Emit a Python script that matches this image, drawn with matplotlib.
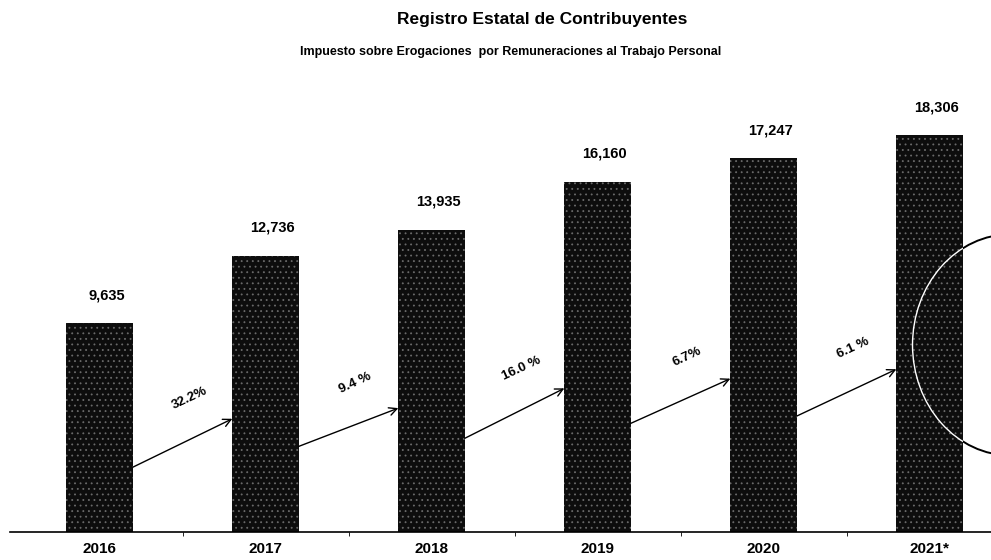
import matplotlib.pyplot as plt
import numpy as np
from matplotlib.patches import Ellipse

plt.rcParams["font.family"] = ["Liberation Sans", "DejaVu Sans"]
plt.rcParams["hatch.linewidth"] = 0.6

years = ["2016", "2017", "2018", "2019", "2020", "2021*"]
contribuyentes = [9635, 12736, 13935, 16160, 17247, 18306]
growth = ["32.2%", "9.4 %", "16.0 %", "6.7%", "6.1 %"]

fig = plt.figure(figsize=(9.91, 5.6), dpi=100)
ax = fig.add_axes([0.010, 0.05, 0.99, 0.79])

x = np.arange(len(years))
bars = ax.bar(x, contribuyentes, width=0.4, color="#0d0d0d",
              edgecolor="#6a6a6a", hatch="...", linewidth=0, zorder=2)

for xi, v in zip(x, contribuyentes):
    ax.annotate(f"{v:,}", (xi, v), xytext=(5, 15), textcoords="offset points",
                ha="center", va="bottom", fontsize=10.5, fontweight="bold")

# growth arrows between consecutive bars
for i, g in enumerate(growth):
    x0, x1 = x[i] + 0.2, x[i + 1] - 0.2
    y0, y1 = contribuyentes[i] * 0.31, contribuyentes[i + 1] * 0.41
    ax.annotate("", xy=(x1, y1), xytext=(x0, y0),
                arrowprops=dict(arrowstyle="->", color="black", lw=1.0,
                                mutation_scale=14, shrinkA=0, shrinkB=0),
                zorder=3)
    ax.annotate(g, ((x0 + x1) / 2, (y0 + y1) / 2), xytext=(5, 32),
                textcoords="offset points", ha="center", va="center",
                rotation=25, fontsize=9.5, fontweight="bold")

# hand-drawn circle near the last bar
circ = Ellipse((1.02, 0.423), 0.2, 0.5, transform=ax.transAxes,
               fill=False, edgecolor="black", lw=1.4, zorder=1)
ax.add_patch(circ)
circ_w = Ellipse((1.02, 0.423), 0.2, 0.5, transform=ax.transAxes,
                 fill=False, edgecolor="white", lw=1.0, zorder=2.5)
ax.add_patch(circ_w)
circ_w.set_clip_path(bars[-1])

ax.set_xlim(-0.54, 5.37)
ax.set_ylim(0, 20400)
ax.set_xticks(x)
ax.set_xticklabels(years, fontsize=11, fontweight="bold")
ax.set_xticks(x[:-1] + 0.5, minor=True)
ax.tick_params(axis="x", which="major", length=0, pad=7)
ax.tick_params(axis="x", which="minor", length=3)
ax.set_yticks([])
for s in ["left", "right", "top"]:
    ax.spines[s].set_visible(False)
ax.spines["bottom"].set_linewidth(1.2)

fig.text(0.547, 0.965, "Registro Estatal de Contribuyentes", ha="center",
         va="center", fontsize=12.5, fontweight="bold")
fig.text(0.515, 0.908, "Impuesto sobre Erogaciones  por Remuneraciones al Trabajo Personal",
         ha="center", va="center", fontsize=9, fontweight="bold")

fig.savefig("out.png", dpi=100)
